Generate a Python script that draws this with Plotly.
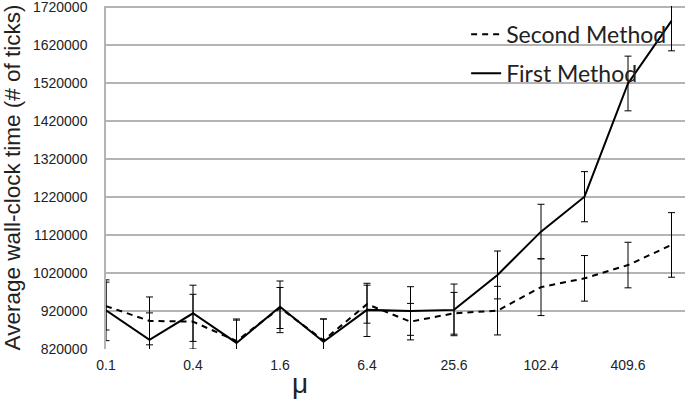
import plotly.graph_objects as go

mu_labels = ["0.1", "0.2", "0.4", "0.8", "1.6", "3.2", "6.4", "12.8",
             "25.6", "51.2", "102.4", "204.8", "409.6", "819.2"]

first_method = [922000, 844000, 914000, 836000, 931000, 839000, 923000,
                920000, 923000, 1015000, 1129000, 1221000, 1519000, 1684000]
first_err = [80000, 71000, 74000, 63000, 68000, 60000, 70000,
             64000, 68000, 63000, 72000, 66000, 72000, 79000]

second_method = [933000, 894000, 892000, 841000, 928000, 843000, 938000,
                 892000, 914000, 921000, 983000, 1006000, 1041000, 1094000]
second_err = [63000, 63000, 72000, 55000, 54000, 56000, 50000,
              48000, 55000, 64000, 75000, 60000, 60000, 85000]

y_ticks = [820000 + 100000 * i for i in range(10)]

x = list(range(len(mu_labels)))

fig = go.Figure()
fig.add_trace(go.Scatter(
    x=x, y=second_method, name="Second Method", mode="lines",
    legendgroup="second",
    line=dict(color="black", width=2, dash="6px,5px"),
    error_y=dict(type="data", array=second_err, color="black", thickness=1, width=3.5),
))
fig.add_trace(go.Scatter(
    x=x, y=first_method, name="First Method", mode="lines",
    legendgroup="first",
    line=dict(color="black", width=2),
    error_y=dict(type="data", array=first_err, color="black", thickness=1, width=3.5),
))

fig.update_layout(
    width=685, height=401,
    margin=dict(l=106, r=0, t=6, b=52),
    paper_bgcolor="white", plot_bgcolor="white",
    font=dict(family="Liberation Sans, Arial", color="#222"),
    showlegend=True,
    legend=dict(
        x=0.622, y=0.98, xanchor="left", yanchor="top",
        bgcolor="rgba(0,0,0,0)", tracegroupgap=6,
        font=dict(family="Lato, Open Sans", size=23, color="#222"),
        itemwidth=30,
    ),
    xaxis=dict(
        range=[0, 13.31],
        tickvals=x[::2], ticktext=mu_labels[::2],
        showgrid=False, zeroline=False,
        showline=False,
        tickfont=dict(size=14, color="#222"),
        ticklabelstandoff=6,
    ),
    yaxis=dict(
        range=[820000, 1723000],
        tickvals=y_ticks, ticktext=[str(v) for v in y_ticks],
        showgrid=True, gridcolor="#b4b4b4", gridwidth=1.5,
        zeroline=False,
        showline=True, linecolor="#b4b4b4", linewidth=1.5,
        tickfont=dict(size=14, color="#222"),
        ticklabelstandoff=14, ticklabeloverflow="allow",
        title=dict(text="Average wall-clock time (# of ticks)",
                   font=dict(size=22.5, color="#222"), standoff=6),
    ),
)

# x-axis title sits left of centre in the original, place it by pixels
fig.add_annotation(
    text="μ", xref="paper", yref="paper",
    x=(300 - 106) / 579, y=-(383 - 349) / 343,
    xanchor="center", yanchor="middle", showarrow=False,
    font=dict(size=28, color="#222"),
)

fig.write_html("out.html", config={"displayModeBar": False},
               post_script="document.body.style.margin='0';")
